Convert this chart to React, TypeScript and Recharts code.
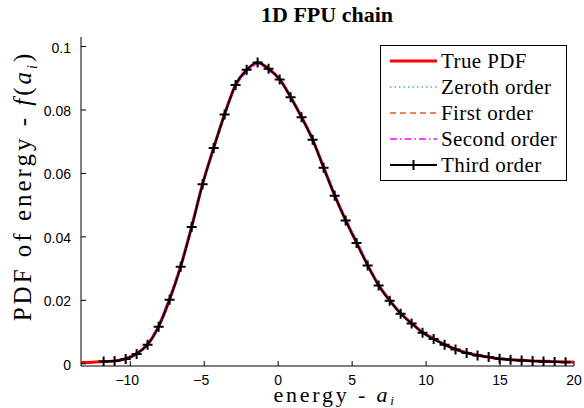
import React from 'react'
import { LineChart, Line, XAxis, YAxis, Legend } from 'recharts'

// marker positions of the expansion curves
const energy = [
  -11.8, -11.06, -10.31, -9.57, -8.83, -8.08, -7.34, -6.59, -5.85, -5.11,
  -4.36, -3.62, -2.88, -2.13, -1.39, -0.65, 0.1, 0.84, 1.58, 2.33,
  3.07, 3.82, 4.56, 5.3, 6.05, 6.79, 7.54, 8.28, 9.02, 9.76,
  10.51, 11.25, 11.99, 12.74, 13.48, 14.23, 14.97, 15.71, 16.46, 17.2,
  17.94, 18.69, 19.43,
]

const thirdOrder = [
  0.0007, 0.0009, 0.0015, 0.0031, 0.006, 0.0117, 0.0202, 0.0306, 0.0431, 0.0566,
  0.068, 0.0786, 0.0879, 0.0927, 0.095, 0.093, 0.0896, 0.084, 0.0777, 0.0706,
  0.0618, 0.053, 0.0452, 0.0381, 0.031, 0.0247, 0.0199, 0.0158, 0.0127, 0.0098,
  0.0078, 0.006, 0.0045, 0.0034, 0.0026, 0.0021, 0.0016, 0.0013, 0.001, 0.0009,
  0.0007, 0.0006, 0.0005,
]

const secondOrder = [
  0.0007, 0.0009, 0.0016, 0.0034, 0.0066, 0.0125, 0.0212, 0.0315, 0.0438, 0.057,
  0.068, 0.0782, 0.0872, 0.092, 0.0944, 0.0925, 0.0893, 0.0838, 0.0779, 0.071,
  0.0624, 0.0537, 0.0459, 0.0388, 0.0316, 0.0251, 0.0202, 0.016, 0.013, 0.0101,
  0.0081, 0.0061, 0.0046, 0.0034, 0.0026, 0.0021, 0.0016, 0.0013, 0.001, 0.0009,
  0.0007, 0.0006, 0.0005,
]

const firstOrder = [
  0.0007, 0.0009, 0.0015, 0.0031, 0.0061, 0.0118, 0.0203, 0.0307, 0.0432, 0.0567,
  0.068, 0.0786, 0.0878, 0.0926, 0.0949, 0.0929, 0.0896, 0.084, 0.0778, 0.0707,
  0.0619, 0.0531, 0.0453, 0.0382, 0.0311, 0.0248, 0.02, 0.0159, 0.0128, 0.0099,
  0.0079, 0.006, 0.0045, 0.0035, 0.0027, 0.0021, 0.0016, 0.0013, 0.001, 0.0009,
  0.0007, 0.0006, 0.0005,
]

const zerothOrder = [
  0.0007, 0.0009, 0.0015, 0.0031, 0.006, 0.0117, 0.0202, 0.0306, 0.0431, 0.0566,
  0.068, 0.0786, 0.0879, 0.0927, 0.095, 0.093, 0.0896, 0.084, 0.0777, 0.0706,
  0.0618, 0.053, 0.0452, 0.0381, 0.031, 0.0247, 0.0199, 0.0158, 0.0127, 0.0098,
  0.0078, 0.006, 0.0045, 0.0034, 0.0026, 0.0021, 0.0016, 0.0013, 0.001, 0.0009,
  0.0007, 0.0006, 0.0005,
]

// the true PDF runs over the whole axis
const trueEnergy = [-13.3, -12.55, ...energy, 20]
const truePdf = [
  0.0004, 0.0005,
  0.0007, 0.0009, 0.0016, 0.0032, 0.0061, 0.0118, 0.0203, 0.0307, 0.0432, 0.0567,
  0.0681, 0.0787, 0.0879, 0.0926, 0.0949, 0.093, 0.0897, 0.0841, 0.0778, 0.0707,
  0.0619, 0.0531, 0.0453, 0.0382, 0.0311, 0.0248, 0.02, 0.0159, 0.0128, 0.0099,
  0.0079, 0.0061, 0.0046, 0.0035, 0.0027, 0.0021, 0.0016, 0.0013, 0.0011, 0.0009,
  0.0008, 0.0007, 0.0006,
  0.0005,
]

const xTicks = [-10, -5, 0, 5, 10, 15, 20]
const yTicks = [0, 0.02, 0.04, 0.06, 0.08, 0.1]

const toPoints = (xs: number[], ys: number[]) => xs.map((x, i) => ({ x, y: ys[i] }))

const series = [
  { name: 'True PDF', data: toPoints(trueEnergy, truePdf), color: '#ff0000', width: 3, dash: undefined, plus: false },
  { name: 'Zeroth order', data: toPoints(energy, zerothOrder), color: '#4ea3d9', width: 1.5, dash: '1.5 3', plus: false },
  { name: 'First order', data: toPoints(energy, firstOrder), color: '#e0602a', width: 1.5, dash: '6 4', plus: false },
  { name: 'Second order', data: toPoints(energy, secondOrder), color: '#ff00ff', width: 1.5, dash: '7 3 1.5 3', plus: false },
  { name: 'Third order', data: toPoints(energy, thirdOrder), color: '#000000', width: 2, dash: undefined, plus: true },
]

const tickFont = { fontFamily: 'Liberation Sans, Arial, sans-serif', fontSize: 14, fill: '#000' }
const serif = 'Liberation Serif, Times New Roman, serif'

function fmtX(v: number) {
  return v < 0 ? '\u2212' + Math.abs(v) : String(v)
}

function BottomTick({ x, y, payload }: any) {
  return (
    <g>
      <line x1={x} x2={x} y1={y} y2={y - 5} stroke="#000" />
      <text x={payload.value < 0 ? x - 3 : x} y={y + 14} textAnchor="middle" dominantBaseline="central" {...tickFont}>
        {fmtX(payload.value)}
      </text>
    </g>
  )
}

function TopTick({ x, y }: any) {
  return <line x1={x} x2={x} y1={y} y2={y + 5} stroke="#000" />
}

function LeftTick({ x, y, payload }: any) {
  return (
    <g>
      <line x1={x} x2={x + 5} y1={y} y2={y} stroke="#000" />
      <text x={x - 10} y={y + 1} textAnchor="end" dominantBaseline="central" {...tickFont}>
        {String(payload.value)}
      </text>
    </g>
  )
}

function RightTick({ x, y }: any) {
  return <line x1={x} x2={x - 5} y1={y} y2={y} stroke="#000" />
}

function PlusDot({ cx, cy }: any) {
  if (cx == null || cy == null) return null
  return (
    <path d={`M${cx - 5},${cy}H${cx + 5}M${cx},${cy - 5}V${cy + 5}`} stroke="#000" strokeWidth={2} fill="none" />
  )
}

function LegendBox() {
  return (
    <div
      style={{
        width: 185, border: '1px solid #000', background: '#fff', padding: '2px 0',
        fontFamily: serif, fontSize: 21, letterSpacing: 0.4, color: '#000',
      }}
    >
      {series.map(s => (
        <div key={s.name} style={{ display: 'flex', alignItems: 'center', height: 26 }}>
          <svg width={60} height={14} style={{ flex: 'none' }}>
            <line x1={9} x2={56} y1={7} y2={7} stroke={s.color} strokeWidth={s.width} strokeDasharray={s.dash} />
            {s.plus && <path d="M32.5,2V12" stroke="#000" strokeWidth={2} />}
          </svg>
          <span style={{ whiteSpace: 'nowrap' }}>{s.name}</span>
        </div>
      ))}
    </div>
  )
}

export default function App() {
  return (
    <div style={{ position: 'relative', width: 584, height: 408, background: '#fff', overflow: 'hidden' }}>
      <style>{'body{margin:0}'}</style>
      <div
        style={{
          position: 'absolute', left: 327, top: 3, transform: 'translateX(-50%)', lineHeight: '24px',
          fontFamily: serif, fontWeight: 'bold', fontSize: 22, whiteSpace: 'nowrap',
        }}
      >
        1D FPU chain
      </div>
      <LineChart width={584} height={408} margin={{ top: 37, right: 10, bottom: 0, left: 0 }}>
        <XAxis
          xAxisId="b" type="number" dataKey="x" domain={[-13.33, 20]} ticks={xTicks}
          allowDataOverflow height={42} tickSize={0} tickMargin={0}
          tick={<BottomTick />} axisLine={{ stroke: '#000' }}
        />
        <XAxis
          xAxisId="t" orientation="top" type="number" dataKey="x" domain={[-13.33, 20]} ticks={xTicks}
          allowDataOverflow height={0} tickSize={0} tickMargin={0}
          tick={<TopTick />} axisLine={{ stroke: '#000' }}
        />
        <YAxis
          yAxisId="l" type="number" domain={[-0.0007, 0.103]} ticks={yTicks}
          allowDataOverflow width={81} tickSize={0} tickMargin={0}
          tick={<LeftTick />} axisLine={{ stroke: '#000' }}
        />
        <YAxis
          yAxisId="r" orientation="right" type="number" domain={[-0.0007, 0.103]} ticks={yTicks}
          allowDataOverflow width={0} tickSize={0} tickMargin={0}
          tick={<RightTick />} axisLine={{ stroke: '#000' }}
        />
        <Legend
          content={<LegendBox />} layout="vertical" align="center" verticalAlign="middle"
          wrapperStyle={{ top: 45, left: 380, width: 187 }}
        />
        {series.map(s => (
          <Line
            key={s.name} name={s.name} data={s.data} dataKey="y" xAxisId="b" yAxisId="l"
            type="monotone" stroke={s.color} strokeWidth={s.width} strokeDasharray={s.dash}
            dot={s.plus ? <PlusDot /> : false} activeDot={false} isAnimationActive={false}
          />
        ))}
      </LineChart>
      <div
        style={{
          position: 'absolute', left: 335, top: 388, transform: 'translateX(-50%)', lineHeight: '14px',
          fontFamily: serif, fontSize: 22, letterSpacing: 2.8, whiteSpace: 'nowrap',
        }}
      >
        energy - <i>a</i><span style={{ fontSize: 13, fontStyle: 'italic', verticalAlign: -3 }}>i</span>
      </div>
      <div
        style={{
          position: 'absolute', left: 23, top: 186, transform: 'translate(-50%, -50%) rotate(-90deg)',
          lineHeight: '22px', fontFamily: serif, fontSize: 25, letterSpacing: 3, whiteSpace: 'nowrap',
        }}
      >
        PDF of energy - <i>f</i>(<i>a</i><sub style={{ fontSize: 14, fontStyle: 'italic', lineHeight: 0 }}>i</sub>)
      </div>
    </div>
  )
}
